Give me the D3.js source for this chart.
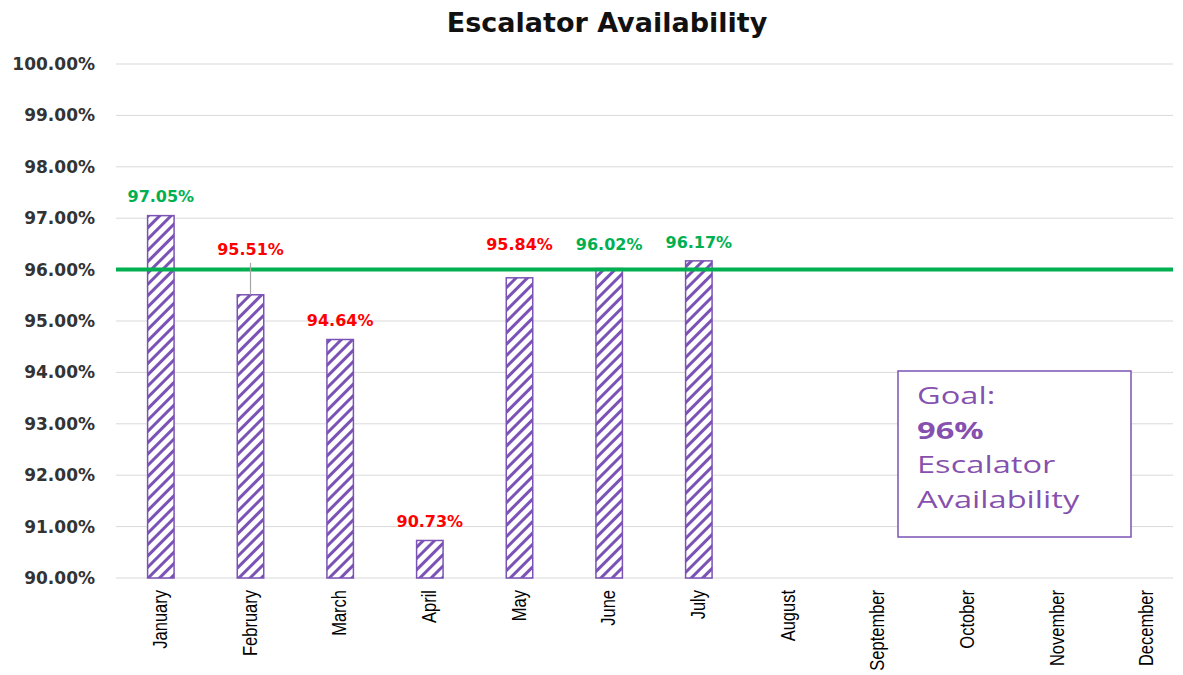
<!DOCTYPE html>
<html><head><meta charset="utf-8">
<script src="https://cdn.jsdelivr.net/npm/d3@7"></script>
<style>body{margin:0;background:#fff}</style>
</head><body><svg id="c" width="1183" height="675"></svg>
<script>
const months = ["January","February","March","April","May","June","July","August","September","October","November","December"];
const availability = [97.05,95.51,94.64,90.73,95.84,96.02,96.17,null,null,null,null,null];
const yTicks = [90,91,92,93,94,95,96,97,98,99,100];
const goal = 96;
const goalText = ["Goal:","96%","Escalator","Availability"];
const title = "Escalator Availability";
const labelDy = [-14,-40,-13.5,-13.5,-28,-18.5,-13];

const svg = d3.select("#c");
const L=116, R=1173, T=64, B=578;
const x = d3.scaleBand().domain(months).range([L,1192]).paddingInner(0.688).paddingOuter(0.344);
const y = d3.scaleLinear().domain([90,100]).range([B,T]);
const purple = "#7B52B5";

const defs = svg.append("defs");
const pat = defs.append("pattern").attr("id","hatch").attr("patternUnits","userSpaceOnUse")
  .attr("width",8).attr("height",8).attr("patternTransform","rotate(45)");
pat.append("rect").attr("width",8).attr("height",8).attr("fill","#fff");
pat.append("line").attr("x1",1.5).attr("y1",0).attr("x2",1.5).attr("y2",8).attr("stroke",purple).attr("stroke-width",3);

svg.append("text").attr("x",607).attr("y",32).attr("text-anchor","middle")
  .attr("font-family","DejaVu Sans").attr("font-weight","bold").attr("font-size",27).attr("fill","#111").text(title);

// grid
svg.append("g").selectAll("line").data(yTicks).join("line")
  .attr("x1",L).attr("x2",R).attr("y1",d=>y(d)).attr("y2",d=>y(d))
  .attr("stroke","#d9d9d9").attr("stroke-width",1);

svg.append("g").selectAll("text").data(yTicks).join("text")
  .attr("x",95).attr("y",d=>y(d)+6).attr("text-anchor","end")
  .attr("font-family","DejaVu Sans").attr("font-weight","bold").attr("font-size",17).attr("fill","#333")
  .text(d=>d.toFixed(2)+"%");

const data = months.map((m,i)=>({m,v:availability[i],dy:labelDy[i]})).filter(d=>d.v!=null);
svg.append("g").selectAll("rect").data(data).join("rect")
  .attr("x",d=>x(d.m)+0.75).attr("y",d=>y(d.v)).attr("width",x.bandwidth()-1.5).attr("height",d=>B-y(d.v))
  .attr("fill","url(#hatch)").attr("stroke",purple).attr("stroke-width",1.5);

// x labels
svg.append("g").selectAll("text").data(months).join("text")
  .attr("transform",d=>`translate(${x(d)+x.bandwidth()/2+6},590) rotate(-90) scale(1,1.2)`)
  .attr("text-anchor","end")
  .attr("font-family","Liberation Sans Narrow, Liberation Sans").attr("font-size",16.5).attr("fill","#000")
  .text(d=>d);

// goal line
svg.append("line").attr("x1",L).attr("x2",R).attr("y1",y(goal)).attr("y2",y(goal))
  .attr("stroke","#00B050").attr("stroke-width",4);

// leader line for February
const feb = data.find(d=>d.m==="February");
svg.append("line").attr("x1",x("February")+x.bandwidth()/2).attr("x2",x("February")+x.bandwidth()/2)
  .attr("y1",y(feb.v)-32).attr("y2",y(feb.v)).attr("stroke","#a6a6a6").attr("stroke-width",1.2);
svg.append("g").selectAll("text").data(data).join("text")
  .attr("x",d=>x(d.m)+x.bandwidth()/2)
  .attr("y",d=>y(d.v)+d.dy)
  .attr("text-anchor","middle")
  .attr("font-family","DejaVu Sans").attr("font-weight","bold").attr("font-size",16)
  .attr("fill",d=>d.v>=goal?"#00B050":"#FF0000")
  .text(d=>d.v.toFixed(2)+"%");

// goal box
const gb = svg.append("g");
gb.append("rect").attr("x",898).attr("y",371).attr("width",233).attr("height",166)
  .attr("fill","#fff").attr("stroke",purple).attr("stroke-width",1.5);
gb.selectAll("text").data(goalText).join("text")
  .attr("transform",(d,i)=>`translate(917,${404+i*34.5}) scale(1.36,1)`)
  .attr("font-family","Open Sans").attr("font-size",24)
  .attr("font-weight",(d,i)=>i===1?"bold":"normal")
  .attr("fill","#7030A0").attr("fill-opacity",0.85)
  .text(d=>d);
</script></body></html>
